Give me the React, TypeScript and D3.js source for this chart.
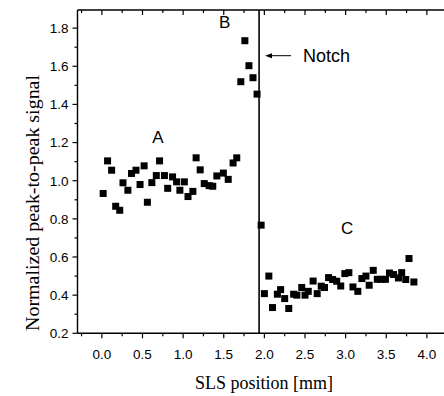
import React from "react";
import * as d3 from "d3";

// Data
const posA = [0.016, 0.07, 0.12, 0.17, 0.22, 0.26, 0.32, 0.365, 0.42, 0.47, 0.52, 0.56, 0.615, 0.67, 0.71, 0.77, 0.81, 0.87, 0.92, 0.96, 1.015, 1.06, 1.12, 1.16, 1.21, 1.26, 1.32, 1.365, 1.415, 1.495, 1.555, 1.615, 1.66];
const valA = [0.933, 1.104, 1.055, 0.866, 0.845, 0.989, 0.95, 1.038, 1.055, 0.98, 1.078, 0.887, 0.99, 1.027, 1.104, 1.027, 0.96, 1.02, 0.994, 0.95, 0.994, 0.917, 0.944, 1.12, 1.057, 0.985, 0.974, 0.971, 1.025, 1.04, 1.007, 1.093, 1.12];
const posB = [1.71, 1.76, 1.81, 1.86, 1.91];
const valB = [1.519, 1.734, 1.603, 1.54, 1.454];
const posNotchPt = [1.96];
const valNotchPt = [0.767];
const posC = [2.0, 2.055, 2.1, 2.16, 2.2, 2.25, 2.3, 2.36, 2.4, 2.46, 2.5, 2.54, 2.6, 2.65, 2.7, 2.74, 2.79, 2.84, 2.89, 2.94, 2.99, 3.04, 3.09, 3.15, 3.2, 3.25, 3.29, 3.34, 3.39, 3.44, 3.49, 3.54, 3.59, 3.65, 3.69, 3.74, 3.78, 3.84];
const valC = [0.408, 0.5, 0.335, 0.405, 0.429, 0.382, 0.33, 0.405, 0.4, 0.44, 0.4, 0.42, 0.474, 0.408, 0.447, 0.44, 0.492, 0.482, 0.473, 0.448, 0.513, 0.518, 0.443, 0.42, 0.487, 0.5, 0.452, 0.53, 0.483, 0.483, 0.483, 0.516, 0.508, 0.49, 0.518, 0.482, 0.592, 0.469];

const xTickLabels = ["0.0", "0.5", "1.0", "1.5", "2.0", "2.5", "3.0", "3.5", "4.0"];
const yTickLabels = ["0.2", "0.4", "0.6", "0.8", "1.0", "1.2", "1.4", "1.6", "1.8"];
const notchX = 1.935;
const regionLabels = [
  { text: "A", x: 0.69, y: 1.2 },
  { text: "B", x: 1.51, y: 1.8 },
  { text: "C", x: 3.02, y: 0.72 },
];

const W = 444;
const H = 396;
const left = 77.5;
const top = 10;
const bottom = 333.3;

export default function App() {
  const x = d3.scaleLinear().domain([-0.3, 4.25]).range([left, left + 4.55 * 81.25]);
  const y = d3.scaleLinear().domain([0.2, 1.895]).range([bottom, top]);

  const xMajor = xTickLabels.map(Number);
  const xMinor = d3.range(-0.25, 4.26, 0.25).filter((v) => Math.abs(v * 2 - Math.round(v * 2)) > 0.01);
  const yMajor = yTickLabels.map(Number);
  const yMinor = d3.range(0.3, 1.9, 0.2);

  const pts: [number, number][] = [];
  [[posA, valA], [posB, valB], [posNotchPt, valNotchPt], [posC, valC]].forEach(([p, v]) => {
    p.forEach((px, i) => pts.push([px, v[i]]));
  });

  const ms = 7;
  const sans = "'Liberation Sans', Arial, sans-serif";
  const serif = "'Liberation Serif', 'Times New Roman', serif";
  const right = x.range()[1];

  const arrowY = 55.7;
  const arrowX1 = 291;
  const arrowX2 = 265;

  return (
    <svg width={W} height={H} style={{ position: "absolute", left: 0, top: 0, background: "#fff" }}>
      <rect x={0} y={0} width={W} height={H} fill="#fff" />
      {/* frame */}
      <g stroke="#000" strokeWidth={1.4} fill="none">
        <line x1={left} x2={left} y1={top} y2={bottom} />
        <line x1={left} x2={right} y1={top} y2={top} />
        <line x1={left} x2={right} y1={bottom} y2={bottom} />
        <line x1={right} x2={right} y1={top} y2={bottom} />
      </g>
      {/* bottom ticks (outward) and top ticks (inward) */}
      <g stroke="#000" strokeWidth={1.2}>
        {xMajor.map((v) => (
          <g key={"xM" + v}>
            <line x1={x(v)} x2={x(v)} y1={bottom} y2={bottom + 5} />
            <line x1={x(v)} x2={x(v)} y1={top} y2={top + 5} />
          </g>
        ))}
        {xMinor.map((v) => (
          <g key={"xm" + v}>
            <line x1={x(v)} x2={x(v)} y1={bottom} y2={bottom + 3} />
            <line x1={x(v)} x2={x(v)} y1={top} y2={top + 3} />
          </g>
        ))}
        {yMajor.map((v) => (
          <line key={"yM" + v} x1={left - 5} x2={left} y1={y(v)} y2={y(v)} />
        ))}
        {yMinor.map((v) => (
          <line key={"ym" + v} x1={left - 3} x2={left} y1={y(v)} y2={y(v)} />
        ))}
      </g>
      {/* tick labels */}
      <g fontFamily={sans} fontSize={13.5} fill="#000">
        {xTickLabels.map((t) => (
          <text key={"xt" + t} x={x(+t)} y={358.5} textAnchor="middle">{t}</text>
        ))}
        {yTickLabels.map((t) => (
          <text key={"yt" + t} x={68.5} y={y(+t)} dy="0.36em" textAnchor="end">{t}</text>
        ))}
      </g>
      {/* axis titles */}
      <text x={264} y={389} textAnchor="middle" fontFamily={serif} fontSize={18} textLength={138} lengthAdjust="spacingAndGlyphs">SLS position [mm]</text>
      <text transform={`translate(39,203) rotate(-90)`} textAnchor="middle" fontFamily={serif} fontSize={18} textLength={256} lengthAdjust="spacingAndGlyphs">Normalized peak-to-peak signal</text>
      {/* notch line */}
      <line x1={x(notchX)} x2={x(notchX)} y1={top} y2={bottom} stroke="#000" strokeWidth={1.6} />
      {/* arrow */}
      <line x1={arrowX1} x2={arrowX2 + 3} y1={arrowY} y2={arrowY} stroke="#000" strokeWidth={1} />
      <path d={`M${arrowX2},${arrowY} L${arrowX2 + 7},${arrowY - 2.5} L${arrowX2 + 7},${arrowY + 2.5} Z`} fill="#000" />
      <text x={303} y={62} fontFamily={sans} fontSize={18} textLength={47} lengthAdjust="spacingAndGlyphs">Notch</text>
      {/* region labels */}
      {regionLabels.map((r) => (
        <text key={r.text} x={x(r.x)} y={y(r.y)} textAnchor="middle" fontFamily={sans} fontSize={17}>{r.text}</text>
      ))}
      {/* markers */}
      <g fill="#000">
        {pts.map(([px, py], i) => (
          <rect key={i} x={x(px) - ms / 2} y={y(py) - ms / 2} width={ms} height={ms} />
        ))}
      </g>
    </svg>
  );
}
